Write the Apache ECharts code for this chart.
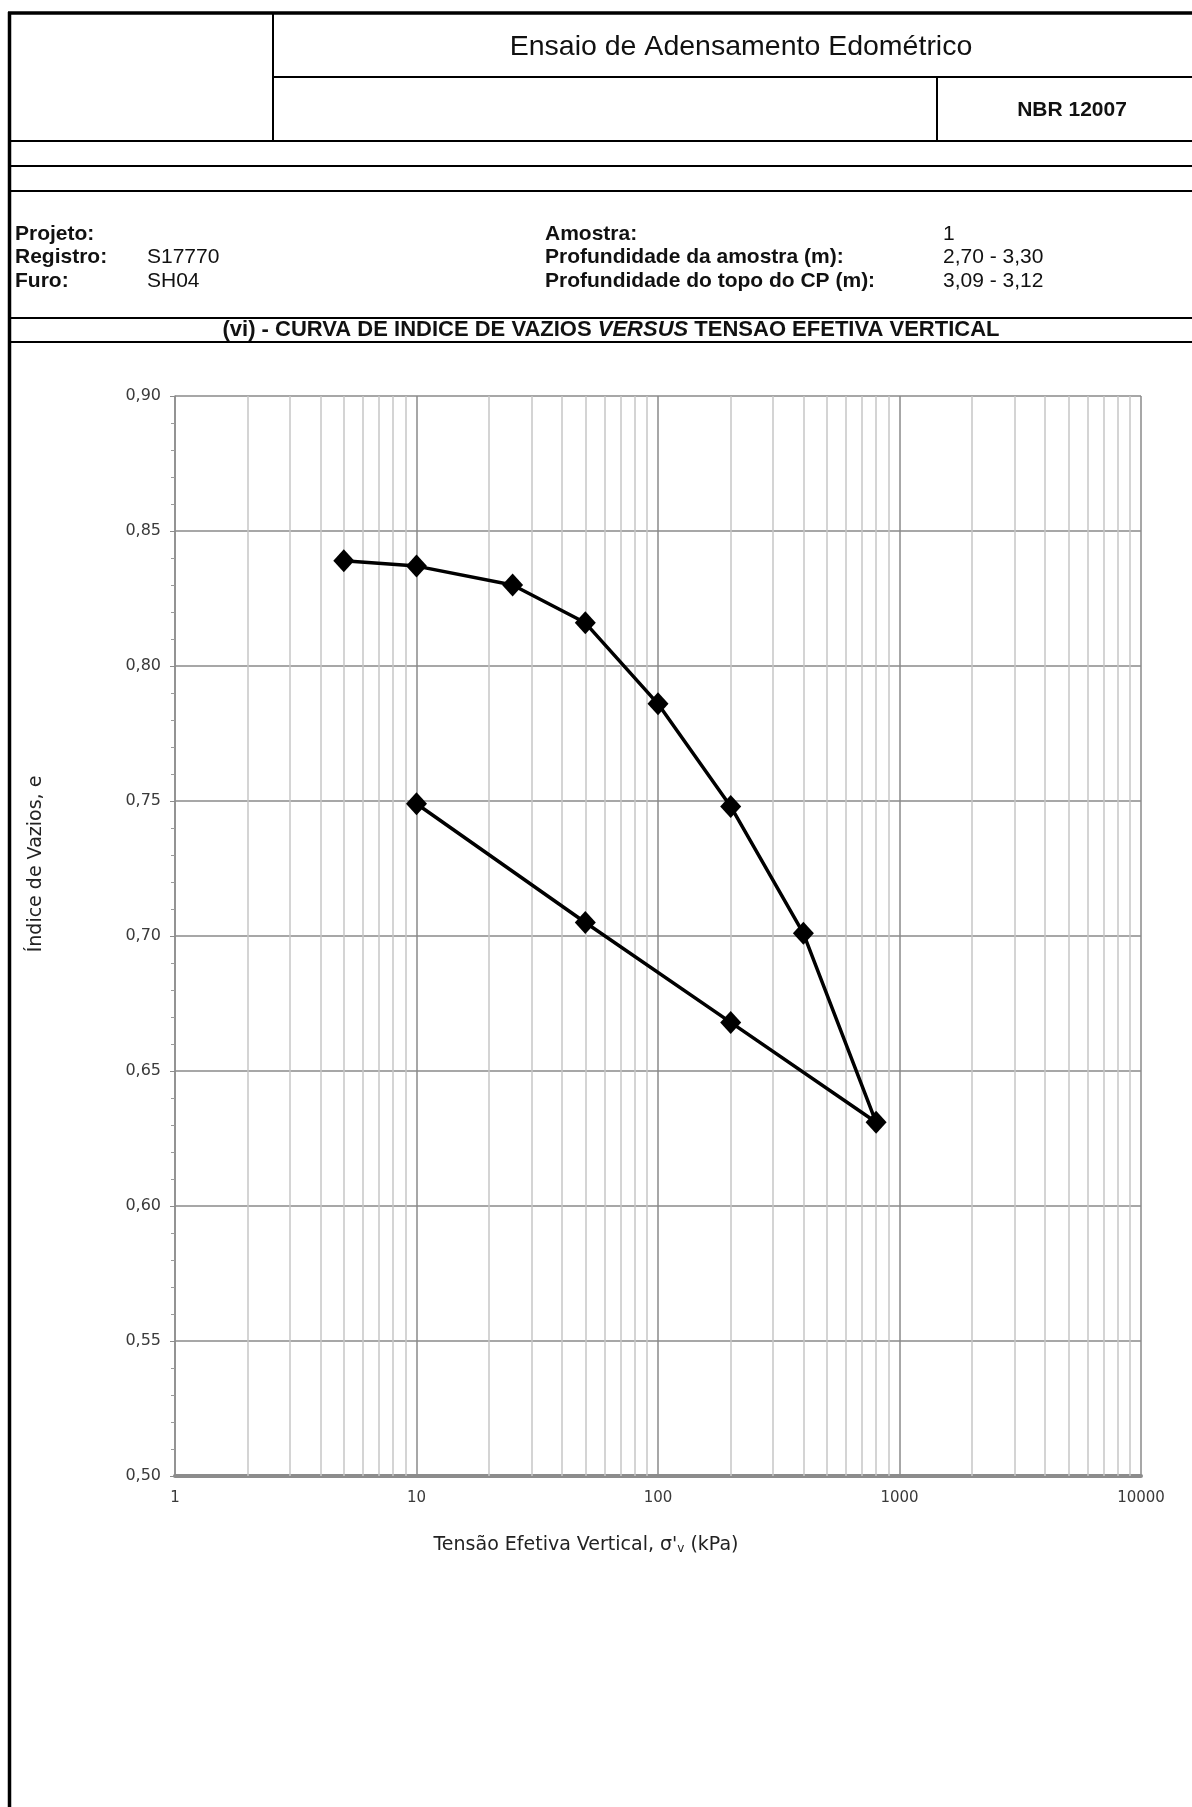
<!DOCTYPE html>
<html>
<head>
<meta charset="utf-8">
<title>Ensaio de Adensamento Edométrico</title>
<script src="https://cdn.jsdelivr.net/npm/echarts@6/dist/echarts.min.js"></script>
<style>
  html, body { margin: 0; padding: 0; background: #fff; }
  #chart { width: 1192px; height: 1807px; }
</style>
</head>
<body>
<div id="chart"></div>
<script>
// Loading / unloading path of the oedometer test: vertical effective stress (kPa) and void ratio
const stressKPa = [5, 10, 25, 50, 100, 200, 400, 800, 200, 50, 10];
const voidRatio = [0.839, 0.837, 0.830, 0.816, 0.786, 0.748, 0.701, 0.631, 0.668, 0.705, 0.749];

// Axis ranges and ticks
const xTickLabels = [1, 10, 100, 1000, 10000];
const yTicks = [0.50, 0.55, 0.60, 0.65, 0.70, 0.75, 0.80, 0.85, 0.90];
// Intermediate log-cycle grid positions (2..9 of each decade)
const xMinorGrid = [2, 3, 4, 5, 6, 7, 8, 9,
                    20, 30, 40, 50, 60, 70, 80, 90,
                    200, 300, 400, 500, 600, 700, 800, 900,
                    2000, 3000, 4000, 5000, 6000, 7000, 8000, 9000];

// Sheet header fields
const sheetTitle = 'Ensaio de Adensamento Edométrico';
const sheetStandard = 'NBR 12007';
const leftLabels = ['Projeto:', 'Registro:', 'Furo:'];
const leftValues = ['', 'S17770', 'SH04'];
const rightLabels = ['Amostra:', 'Profundidade da amostra (m):', 'Profundidade do topo do CP (m):'];
const rightValues = ['1', '2,70 - 3,30', '3,09 - 3,12'];

const HEAD_FONT = '"Liberation Sans", Arial, sans-serif';
const AXIS_FONT = '"DejaVu Sans", Verdana, sans-serif';

const chart = echarts.init(document.getElementById('chart'), null, { renderer: 'canvas' });

function hLine(x1, x2, y, w) {
  return { type: 'line', silent: true, shape: { x1: x1, y1: y, x2: x2, y2: y },
           style: { stroke: '#000', lineWidth: w } };
}
function vLine(x, y1, y2, w) {
  return { type: 'line', silent: true, shape: { x1: x, y1: y1, x2: x, y2: y2 },
           style: { stroke: '#000', lineWidth: w } };
}
function txt(x, y, text, opts) {
  const o = opts || {};
  return {
    type: 'text', silent: true, x: x, y: y, rotation: o.rotation || 0,
    style: {
      text: text,
      fill: o.fill || '#111',
      fontSize: o.fontSize || 21,
      fontFamily: o.fontFamily || HEAD_FONT,
      fontWeight: o.fontWeight || 'normal',
      align: o.align || 'left',
      verticalAlign: 'middle',
      rich: o.rich
    }
  };
}

const graphics = [
  // outer frame
  hLine(8, 1192, 13, 3.5),
  vLine(9.5, 12, 1807, 3.5),
  // title block
  vLine(273, 13, 142, 2),
  hLine(273, 1192, 77, 2),
  vLine(937, 77, 142, 2),
  hLine(9, 1192, 141, 2),
  hLine(9, 1192, 166, 2),
  hLine(9, 1192, 191, 2),
  // section heading band
  hLine(9, 1192, 318, 2),
  hLine(9, 1192, 342, 2),
  txt(741, 47, sheetTitle, { fontSize: 28.5, align: 'center' }),
  txt(1072, 110, sheetStandard, { fontSize: 21, fontWeight: 'bold', align: 'center' }),
  txt(611, 330, '(vi) - CURVA DE INDICE DE VAZIOS {it|VERSUS} TENSAO EFETIVA VERTICAL',
      { fontSize: 22, fontWeight: 'bold', align: 'center',
        rich: { it: { fontStyle: 'italic', fontWeight: 'bold', fontSize: 22, fontFamily: HEAD_FONT, fill: '#111' } } }),
  // axis titles
  txt(36, 864, 'Índice de Vazios, e',
      { fontSize: 19, fontFamily: AXIS_FONT, align: 'center', rotation: Math.PI / 2, fill: '#222' }),
  txt(586, 1545, 'Tensão Efetiva Vertical, σ\'{sub|v} (kPa)',
      { fontSize: 19, fontFamily: AXIS_FONT, align: 'center', fill: '#222',
        rich: { sub: { fontSize: 12, fontFamily: AXIS_FONT, fill: '#222', verticalAlign: 'bottom', lineHeight: 12 } } })
];

const rowY = [234, 257, 281];
leftLabels.forEach(function (t, i) {
  graphics.push(txt(15, rowY[i], t, { fontWeight: 'bold' }));
  if (leftValues[i]) graphics.push(txt(147, rowY[i], leftValues[i]));
});
rightLabels.forEach(function (t, i) {
  graphics.push(txt(545, rowY[i], t, { fontWeight: 'bold' }));
  graphics.push(txt(943, rowY[i], rightValues[i]));
});

const points = stressKPa.map(function (s, i) { return [s, voidRatio[i]]; });

chart.setOption({
  animation: false,
  backgroundColor: '#fff',
  grid: { left: 175, right: 51, top: 396, bottom: 331, containLabel: false },
  xAxis: {
    type: 'log',
    logBase: 10,
    min: xTickLabels[0],
    max: xTickLabels[xTickLabels.length - 1],
    axisLine: { show: true, lineStyle: { color: '#8c8c8c', width: 4 } },
    axisTick: { show: false },
    axisLabel: {
      margin: 15, fontSize: 15, color: '#3a3a3a', fontFamily: AXIS_FONT,
      formatter: function (v) { return String(Math.round(v)); }
    },
    splitLine: { show: true, lineStyle: { color: '#8a8a8a', width: 1.5 } }
  },
  yAxis: {
    type: 'value',
    min: yTicks[0],
    max: yTicks[yTicks.length - 1],
    interval: 0.05,
    axisLine: { show: true, lineStyle: { color: '#8c8c8c', width: 1.5 } },
    axisTick: { show: true, length: 5, lineStyle: { color: '#8c8c8c', width: 1 } },
    minorTick: { show: true, splitNumber: 5, length: 4, lineStyle: { color: '#9a9a9a', width: 1 } },
    axisLabel: {
      margin: 14, fontSize: 16, color: '#3a3a3a', fontFamily: AXIS_FONT,
      formatter: function (v) { return v.toFixed(2).replace('.', ','); }
    },
    splitLine: { show: true, lineStyle: { color: '#8a8a8a', width: 1.5 } }
  },
  graphic: { elements: graphics },
  series: [
    {
      // light grid lines inside each log cycle
      type: 'line',
      data: [],
      z: 1,
      silent: true,
      markLine: {
        silent: true,
        symbol: 'none',
        label: { show: false },
        animation: false,
        lineStyle: { color: '#c6c6c6', width: 1.5, type: 'solid' },
        data: xMinorGrid.map(function (v) { return { xAxis: v }; })
      }
    },
    {
      type: 'line',
      name: 'e x σ\'v',
      z: 5,
      data: points,
      symbol: 'diamond',
      symbolSize: [21, 23],
      itemStyle: { color: '#000' },
      lineStyle: { color: '#000', width: 3.5 }
    }
  ]
});
</script>
</body>
</html>
